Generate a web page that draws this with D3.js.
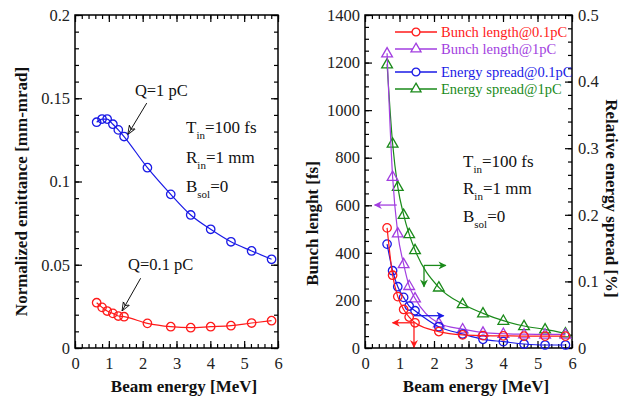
<!DOCTYPE html>
<html>
<head>
<meta charset="utf-8">
<script src="https://cdn.jsdelivr.net/npm/d3@7"></script>
<style>
  body { margin: 0; background: #fff; }
  svg text { font-family: "Liberation Serif", "Times New Roman", "DejaVu Serif", "Noto Serif", serif !important; }
</style>
</head>
<body>
<svg id="chart" width="630" height="401"></svg>
<script>
// beam energy points (MeV), shared by every series
const energy = [0.64, 0.8, 0.95, 1.12, 1.28, 1.45, 2.14, 2.83, 3.42, 4.01, 4.61, 5.22, 5.81];

// left panel: normalized emittance [mm-mrad]
const emit1pC  = [0.1356, 0.1375, 0.1375, 0.1344, 0.131, 0.127, 0.1083, 0.0923, 0.0799, 0.0713, 0.0638, 0.0583, 0.0533];
const emit01pC = [0.0272, 0.0244, 0.0222, 0.0208, 0.0192, 0.0188, 0.0148, 0.0128, 0.0122, 0.0128, 0.0134, 0.015, 0.0164];

// right panel: bunch length [fs] (left axis), energy spread [%] (right axis)
const bunch01pC  = [505, 306, 216, 162, 130, 106, 69, 55, 52, 51, 50, 50, 50];
const bunch1pC   = [1239, 720, 482, 353, 261, 209, 104, 79, 65, 60, 58, 57, 57];
const spread01pC = [0.156, 0.116, 0.092, 0.076, 0.063, 0.056, 0.032, 0.021, 0.013, 0.0095, 0.006, 0.0045, 0.0045];
const spread1pC  = [0.426, 0.307, 0.242, 0.200, 0.171, 0.147, 0.091, 0.066, 0.052, 0.041, 0.033, 0.028, 0.022];

const xTicks = [0, 1, 2, 3, 4, 5, 6];
const emitTicks = [0, 0.05, 0.1, 0.15, 0.2];
const bunchTicks = [0, 200, 400, 600, 800, 1000, 1200, 1400];
const spreadTicks = [0, 0.1, 0.2, 0.3, 0.4, 0.5];

const svg = d3.select('#chart');
const serif = '"Liberation Serif", "Times New Roman", "DejaVu Serif", serif';
const red = '#ff1a1a', blue = '#1a1ae6', purple = '#a23ee0', green = '#1a8a1a';

function frame(x, y) {
  svg.append('rect')
    .attr('x', x.range()[0]).attr('y', y.range()[1])
    .attr('width', x.range()[1] - x.range()[0]).attr('height', y.range()[0] - y.range()[1])
    .attr('fill', 'none').attr('stroke', '#000').attr('stroke-width', 1.5);
}

// inward ticks: major with labels, minor without
function axis(gen, scale, pos, transform, major, minorStep, fmt, labels) {
  const lo = scale.domain()[0], hi = scale.domain()[1];
  const minor = d3.range(lo, hi + minorStep / 2, minorStep);
  const gMinor = svg.append('g').attr('transform', transform)
    .call(gen(scale).tickValues(minor).tickSize(-4).tickFormat(''));
  const gMajor = svg.append('g').attr('transform', transform)
    .call(gen(scale).tickValues(major).tickSize(-7).tickPadding(pos).tickFormat(labels ? fmt : ''));
  [gMinor, gMajor].forEach(g => {
    g.attr('font-family', serif);
    g.select('.domain').remove();
    g.selectAll('line').attr('stroke', '#000').attr('stroke-width', 1.2);
    g.selectAll('text').attr('font-size', 16.5).attr('fill', '#222');
  });
  return gMajor;
}

function series(x, y, xs, ys, color, shape) {
  const line = d3.line().x((d, i) => x(xs[i])).y(d => y(d)).curve(d3.curveMonotoneX);
  svg.append('path').attr('d', line(ys)).attr('fill', 'none')
    .attr('stroke', color).attr('stroke-width', 1.2);
  const sym = d3.symbol().type(shape === 'tri' ? d3.symbolTriangle : d3.symbolCircle)
    .size(shape === 'tri' ? 50 : 56);
  svg.append('g').selectAll('path').data(ys).enter().append('path')
    .attr('d', sym)
    .attr('transform', (d, i) => `translate(${x(xs[i])},${y(d) + (shape === 'tri' ? 0.5 : 0)})`)
    .attr('fill', 'none').attr('stroke', color).attr('stroke-width', 1.3);
}

function subText(px, py, main, sub, rest) {
  const t = svg.append('text').attr('x', px).attr('y', py).attr('font-size', 17).attr('fill', '#111');
  t.append('tspan').text(main);
  t.append('tspan').attr('dy', 6).attr('font-size', 11).text(sub);
  t.append('tspan').attr('dy', -6).text(rest);
}

function title(text, transform) {
  svg.append('text').attr('transform', transform)
    .attr('text-anchor', 'middle').attr('font-size', 17).attr('font-weight', 'bold')
    .attr('fill', '#111').text(text);
}

// ---------- left panel ----------
const xL = d3.scaleLinear().domain([0, 6]).range([75, 278]);
const yL = d3.scaleLinear().domain([0, 0.2]).range([348, 15]);

axis(d3.axisBottom, xL, 9, `translate(0,${yL(0)})`, xTicks, 0.2, d3.format('d'), true);
axis(d3.axisTop, xL, 0, `translate(0,${yL(0.2)})`, xTicks, 0.2, null, false);
axis(d3.axisLeft, yL, 5, `translate(${xL(0)},0)`, emitTicks, 0.01, d => String(+d.toFixed(3)), true);
axis(d3.axisRight, yL, 0, `translate(${xL(6)},0)`, emitTicks, 0.01, null, false);
frame(xL, yL);

series(xL, yL, energy, emit1pC, blue, 'circle');
series(xL, yL, energy, emit01pC, red, 'circle');

const defs = svg.append('defs');
defs.append('marker').attr('id', 'openHead').attr('viewBox', '0 0 10 10')
  .attr('refX', 10).attr('refY', 5).attr('markerWidth', 9).attr('markerHeight', 9)
  .attr('orient', 'auto').attr('markerUnits', 'userSpaceOnUse')
  .append('path').attr('d', 'M0,1 L10,5 L0,9 L3,5 Z').attr('fill', 'none')
  .attr('stroke', '#111').attr('stroke-width', 1);

const leftNotes = [
  {text: 'Q=1 pC',   tx: 1.77, ty: 0.1515, from: [2.12, 0.1471], to: [1.56, 0.1282]},
  {text: 'Q=0.1 pC', tx: 1.57, ty: 0.0466, from: [1.94, 0.0419], to: [1.39, 0.0222]}
];
leftNotes.forEach(n => {
  svg.append('text').attr('x', xL(n.tx)).attr('y', yL(n.ty)).attr('font-size', 16.5)
    .attr('fill', '#111').text(n.text);
  svg.append('line').attr('x1', xL(n.from[0])).attr('y1', yL(n.from[1]))
    .attr('x2', xL(n.to[0])).attr('y2', yL(n.to[1]))
    .attr('stroke', '#111').attr('stroke-width', 1).attr('marker-end', 'url(#openHead)');
});

subText(186, 133, 'T', 'in', '=100 fs');
subText(186, 163, 'R', 'in', '=1 mm');
subText(186, 192, 'B', 'sol', '=0');

title('Normalized emittance [mm-mrad]', `translate(27,${(yL(0) + yL(0.2)) / 2 + 10}) rotate(-90)`);
title('Beam energy [MeV]', 'translate(184,392)');

// ---------- right panel ----------
const xR = d3.scaleLinear().domain([0, 6]).range([365, 572]);
const yB = d3.scaleLinear().domain([0, 1400]).range([348, 15]);
const yS = d3.scaleLinear().domain([0, 0.5]).range([348, 15]);

axis(d3.axisBottom, xR, 9, `translate(0,${yB(0)})`, xTicks, 0.2, d3.format('d'), true);
axis(d3.axisTop, xR, 0, `translate(0,${yB(1400)})`, xTicks, 0.2, null, false);
axis(d3.axisLeft, yB, 5, `translate(${xR(0)},0)`, bunchTicks, 50, d3.format('d'), true);
axis(d3.axisRight, yS, 6, `translate(${xR(6)},0)`, spreadTicks, 0.02, d => d === 0 ? '0' : d3.format('.1f')(d), true);
frame(xR, yB);

series(xR, yS, energy, spread1pC, green, 'tri');
series(xR, yB, energy, bunch1pC, purple, 'tri');
series(xR, yS, energy, spread01pC, blue, 'circle');
series(xR, yB, energy, bunch01pC, red, 'circle');

// filled arrows pointing to the axis each curve uses
['red', 'blue', 'purple', 'green'].forEach(k => {
  const c = {red, blue, purple, green}[k];
  defs.append('marker').attr('id', 'head-' + k).attr('viewBox', '0 0 10 10')
    .attr('refX', 9).attr('refY', 5).attr('markerWidth', 9).attr('markerHeight', 8)
    .attr('orient', 'auto').attr('markerUnits', 'userSpaceOnUse')
    .append('path').attr('d', 'M0,0 L10,5 L0,10 L3,5 Z').attr('fill', c);
});
const rightArrows = [
  {c: 'purple', s: yB, from: [0.92, 601], to: [0.28, 601]},
  {c: 'red', s: yB, from: [1.42, 106], to: [0.8, 106]},
  {c: 'red', s: yB, from: [1.42, 106], to: [1.42, 3]},
  {c: 'blue', s: yS, from: [1.42, 0.0485], to: [2.28, 0.0485]},
  {c: 'green', s: yS, from: [1.71, 0.124], to: [2.34, 0.124]},
  {c: 'green', s: yS, from: [1.71, 0.124], to: [1.71, 0.092]}
];
rightArrows.forEach(a => {
  svg.append('line').attr('x1', xR(a.from[0])).attr('y1', a.s(a.from[1]))
    .attr('x2', xR(a.to[0])).attr('y2', a.s(a.to[1]))
    .attr('stroke', {red, blue, purple, green}[a.c]).attr('stroke-width', 1.3)
    .attr('marker-end', `url(#head-${a.c})`);
});

// legend
const legend = [
  {label: 'Bunch length@0.1pC', color: red, shape: 'circle'},
  {label: 'Bunch length@1pC', color: purple, shape: 'tri'},
  {label: 'Energy spread@0.1pC', color: blue, shape: 'circle'},
  {label: 'Energy spread@1pC', color: green, shape: 'tri'}
];
const legendY = [32, 49, 72, 89];
legend.forEach((d, i) => {
  const g = svg.append('g').attr('transform', `translate(395,${legendY[i]})`);
  g.append('line').attr('x1', 0).attr('x2', 42).attr('stroke', d.color).attr('stroke-width', 1.3);
  g.append('path').attr('d', d3.symbol().type(d.shape === 'tri' ? d3.symbolTriangle : d3.symbolCircle)
      .size(d.shape === 'tri' ? 44 : 48))
    .attr('transform', 'translate(21,0)').attr('fill', '#fff').attr('stroke', d.color).attr('stroke-width', 1.3);
  g.append('text').attr('x', 46).attr('y', 5).attr('font-size', 14.5).attr('fill', d.color).text(d.label);
});

subText(463, 167, 'T', 'in', '=100 fs');
subText(463, 194, 'R', 'in', '=1 mm');
subText(463, 222, 'B', 'sol', '=0');

title('Bunch lenght [fs]', `translate(318,${(yB(0) + yB(1400)) / 2 + 42}) rotate(-90)`);
title('Relative energy spread [%]', `translate(606,${(yB(0) + yB(1400)) / 2 + 17}) rotate(90)`);
title('Beam energy [MeV]', 'translate(476,392)');
</script>
</body>
</html>
